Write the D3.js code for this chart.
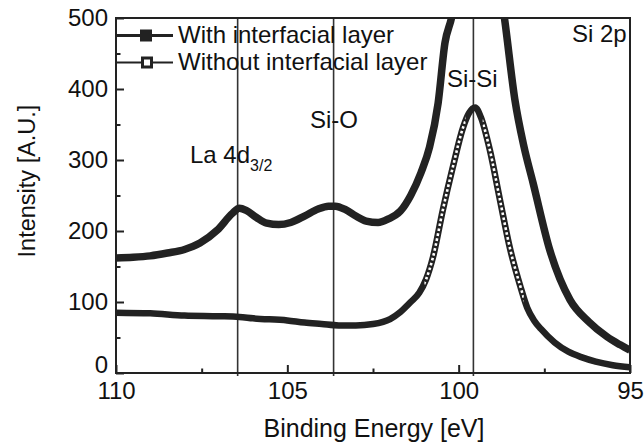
<!DOCTYPE html>
<html>
<head>
<meta charset="utf-8">
<script src="https://cdn.jsdelivr.net/npm/d3@7"></script>
<style>
    body { margin: 0; background: #fff; }
    svg { display: block; font-family: "Liberation Sans", Arial, sans-serif; }
</style>
</head>
<body>
<svg id="paint_feild"></svg>
<script>
// Data
const energy_with = [110, 109.5, 109, 108.5, 108, 107.55, 107.05, 106.6, 106.4, 106.2, 105.9, 105.6, 105.25, 104.9,
    104.5, 104.1, 103.8, 103.6, 103.3, 103, 102.7, 102.35, 102.05, 101.7, 101.4, 101.1, 100.85, 100.6,
    100.4, 100.2, 100, 99.7, 99.4, 99.1, 98.9, 98.65, 98.36, 98.1, 97.83, 97.34, 96.75, 96.2, 95.67, 95.3, 95];
const intensity_with = [162, 163, 165, 169, 174, 183, 201, 225, 232, 229, 219, 211, 209, 212,
    221, 231, 235, 235, 230, 221, 214, 212, 217, 228, 250, 282, 318, 380,
    465, 502, 560, 640, 660, 630, 580, 495, 385, 320, 268, 173, 103, 72, 51, 40, 32];

const energy_without = [110, 109, 108, 107, 106.4, 106, 105, 104.5, 104, 103.5, 103, 102.5, 102, 101.7,
    101.4, 101.15, 100.95, 100.75, 100.46, 100.17, 99.87, 99.7, 99.52, 99.35, 99.09, 98.8, 98.5, 98.2,
    98, 97.8, 97.6, 97.2, 96.8, 96.4, 96, 95.5, 95];
const intensity_without = [85, 84, 81, 80, 79, 77, 74, 71, 69, 67, 67, 69, 76, 86,
    100, 113, 132, 163, 230, 290, 346, 366, 374, 360, 314, 245, 175, 122,
    92, 74, 62, 43, 30, 22, 16, 11, 8];

const x_ticks = [110, 105, 100, 95];
const x_minor = [107.5, 102.5, 97.5];
const y_ticks = [0, 100, 200, 300, 400, 500];
const y_minor = [50, 150, 250, 350, 450];
const peak_lines = [106.45, 103.65, 99.57];
const legend_labels = ["With interfacial layer", "Without interfacial layer"];

const svg_width = 644, svg_height = 444;
const margin = {left: 116, top: 18, right: 14, bottom: 71};
const ink = "#222";

const svg = d3.select("#paint_feild")
    .attr("width", svg_width)
    .attr("height", svg_height);

const x = d3.scaleLinear().domain([110, 95]).range([margin.left, svg_width - margin.right]);
const y = d3.scaleLinear().domain([0, 500]).range([svg_height - margin.bottom, margin.top]);

// clip for the curves
svg.append("clipPath").attr("id", "plot_clip")
    .append("rect")
    .attr("x", x(110)).attr("y", y(500))
    .attr("width", x(95) - x(110)).attr("height", y(0) - y(500));

// vertical marker lines
svg.selectAll(".peak_line").data(peak_lines).enter().append("line")
    .attr("class", "peak_line")
    .attr("x1", d => x(d)).attr("x2", d => x(d))
    .attr("y1", y(500)).attr("y2", y(0) + 3)
    .attr("stroke", "#333")
    .attr("stroke-width", 1.6);

const line = d3.line()
    .x(d => x(d[0]))
    .y(d => y(d[1]))
    .curve(d3.curveMonotoneX);

const with_points = d3.zip(energy_with, intensity_with);
const without_points = d3.zip(energy_without, intensity_without);

const curves = svg.append("g").attr("clip-path", "url(#plot_clip)");

curves.append("path")
    .attr("d", line(with_points))
    .attr("fill", "none")
    .attr("stroke", ink)
    .attr("stroke-width", 7.5);

curves.append("path")
    .attr("d", line(without_points))
    .attr("fill", "none")
    .attr("stroke", ink)
    .attr("stroke-width", 6.5);

// open squares show on the steep parts only
const open_parts = [[101.0, 99.8], [99.3, 98.1]];
const open_clip = svg.append("clipPath").attr("id", "open_clip");
open_parts.forEach(p => {
    open_clip.append("rect")
        .attr("x", x(p[0])).attr("y", y(500))
        .attr("width", x(p[1]) - x(p[0])).attr("height", y(0) - y(500));
});
svg.append("path")
    .attr("clip-path", "url(#open_clip)")
    .attr("d", line(without_points))
    .attr("fill", "none")
    .attr("stroke", "#fff")
    .attr("stroke-width", 2.6)
    .attr("stroke-dasharray", "2.6 2.4");

// frame
svg.append("rect")
    .attr("x", x(110)).attr("y", y(500))
    .attr("width", x(95) - x(110)).attr("height", y(0) - y(500))
    .attr("fill", "none")
    .attr("stroke", ink)
    .attr("stroke-width", 2);

// axes, ticks pointing inward
function style_axis(g, font_size) {
    g.select(".domain").remove();
    g.selectAll(".tick line").attr("stroke", ink).attr("stroke-width", 2);
    g.selectAll(".tick text")
        .attr("fill", "#111")
        .style("font-size", font_size + "px");
}

svg.append("g")
    .attr("transform", `translate(0,${y(0)})`)
    .call(d3.axisBottom(x).tickValues(x_ticks).tickSize(-8).tickPadding(9).tickFormat(d3.format("d")))
    .call(g => style_axis(g, 24));

svg.append("g")
    .attr("transform", `translate(0,${y(0)})`)
    .call(d3.axisBottom(x).tickValues(x_minor).tickSize(-4.5).tickFormat(""))
    .call(g => style_axis(g, 24));

svg.append("g")
    .attr("transform", `translate(${x(110)},0)`)
    .call(d3.axisLeft(y).tickValues(y_ticks).tickSize(-8).tickPadding(8).tickFormat(d3.format("d")))
    .call(g => style_axis(g, 24))
    .call(g => g.selectAll(".tick text").filter(d => d === 0).attr("dy", "-1"));

svg.append("g")
    .attr("transform", `translate(${x(110)},0)`)
    .call(d3.axisLeft(y).tickValues(y_minor).tickSize(-4.5).tickFormat(""))
    .call(g => style_axis(g, 24));

// axis titles
svg.append("text")
    .attr("x", 374).attr("y", 437)
    .attr("text-anchor", "middle")
    .style("font-size", "25px")
    .attr("fill", "#111")
    .text("Binding Energy [eV]");

svg.append("text")
    .attr("transform", "translate(35,181) rotate(-90)")
    .attr("text-anchor", "middle")
    .style("font-size", "23.5px")
    .attr("fill", "#111")
    .text("Intensity [A.U.]");

// legend
const legend_y = [35.5, 62.5];
const legend = svg.append("g");
legend.append("line")
    .attr("x1", x(110)).attr("x2", 173)
    .attr("y1", legend_y[0]).attr("y2", legend_y[0])
    .attr("stroke", ink).attr("stroke-width", 2.8);
legend.append("rect")
    .attr("x", 140).attr("y", legend_y[0] - 6)
    .attr("width", 12).attr("height", 12)
    .attr("fill", ink);
legend.append("line")
    .attr("x1", x(110)).attr("x2", 173)
    .attr("y1", legend_y[1]).attr("y2", legend_y[1])
    .attr("stroke", ink).attr("stroke-width", 1.8);
legend.append("rect")
    .attr("x", 142.5).attr("y", legend_y[1] - 4.5)
    .attr("width", 9).attr("height", 9)
    .attr("fill", "#fff")
    .attr("stroke", ink).attr("stroke-width", 3);
legend.selectAll(".legend_text").data(legend_labels).enter().append("text")
    .attr("class", "legend_text")
    .attr("x", 178)
    .attr("y", (d, i) => legend_y[i] + 7)
    .style("font-size", "24px")
    .attr("fill", "#111")
    .text(d => d);

// peak labels
const la = svg.append("text")
    .attr("x", 190).attr("y", 163)
    .style("font-size", "24px")
    .attr("fill", "#111");
la.append("tspan").text("La 4d");
la.append("tspan")
    .attr("dy", 8)
    .style("font-size", "16px")
    .text("3/2");

svg.append("text")
    .attr("x", 310).attr("y", 128)
    .style("font-size", "24px")
    .attr("fill", "#111")
    .text("Si-O");

svg.append("text")
    .attr("x", 447).attr("y", 87)
    .style("font-size", "24px")
    .attr("fill", "#111")
    .text("Si-Si");

svg.append("text")
    .attr("x", 572).attr("y", 42)
    .style("font-size", "24px")
    .attr("fill", "#111")
    .text("Si 2p");
</script>
</body>
</html>
